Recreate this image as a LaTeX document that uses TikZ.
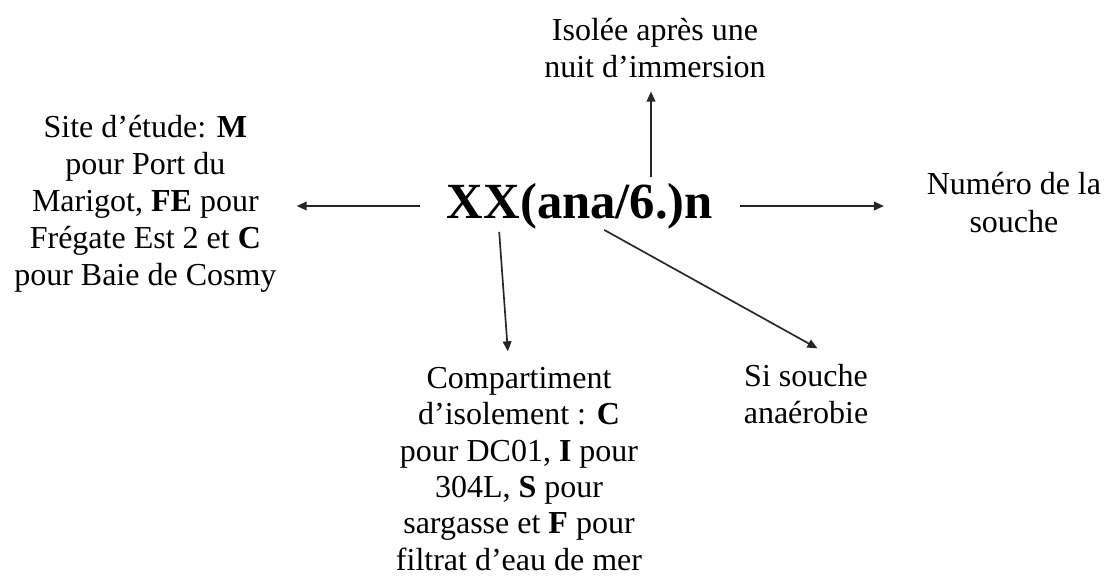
\documentclass[tikz,border=0pt]{standalone}
\usepackage{fontspec}
\setmainfont{Liberation Serif}
\usetikzlibrary{arrows.meta, positioning}

\begin{document}
\begin{tikzpicture}[
    x=0.75pt, y=-0.75pt,
    every node/.style={align=center, inner sep=0pt, font=\fontsize{24}{27.8}\selectfont},
    code/.style={font=\fontsize{38}{40}\selectfont\bfseries},
    fleche/.style={-{Triangle[length=7.5pt, width=6.5pt]}, line width=1.25pt, color=black!85}
]
\useasboundingbox (0,0) rectangle (1109,578);
\node[code] (xx) at (580,206) {XX(ana/6.)n};
\node (site) [left=127.5pt of xx, yshift=1.9pt] {Site d’étude: \textbf{M}\\ pour Port du\\ Marigot, \textbf{FE} pour\\ Frégate Est 2 et \textbf{C}\\ pour Baie de Cosmy};
\node (numero) [right=160pt of xx, yshift=2.6pt] {Numéro de la\\ souche};
\node (isolee) [above=78.4pt of xx, xshift=56.25pt] {Isolée après une\\ nuit d’immersion};
\node (compart) [below=103.5pt of xx, xshift=-45.75pt, font=\fontsize{24}{27.2}\selectfont] {Compartiment\\ d’isolement : \textbf{C}\\ pour DC01, \textbf{I} pour\\ 304L, \textbf{S} pour\\ sargasse et \textbf{F} pour\\ filtrat d’eau de mer};
\node (anaer) [below=101.25pt of xx, xshift=169.5pt] {Si souche\\ anaérobie};

\draw[fleche, shorten <=20pt, shorten >=15pt] (xx.west) -- (xx.west -| site.east);
\draw[fleche, shorten <=20pt, shorten >=32pt] (xx.east) -- (xx.east -| numero.west);
\draw[fleche, shorten <=4pt, shorten >=10pt] ([xshift=53.25pt]xx.north) -- ([xshift=53.25pt]xx.north |- isolee.south);
\draw[fleche, shorten <=2pt, shorten >=12pt] ([xshift=-60.75pt]xx.south) -- ([xshift=-7.5pt]compart.north);
\draw[fleche, shorten <=1pt, shorten >=24.5pt] ([xshift=17.25pt]xx.south) -- ([xshift=30pt]anaer.north);
\end{tikzpicture}
\end{document}
